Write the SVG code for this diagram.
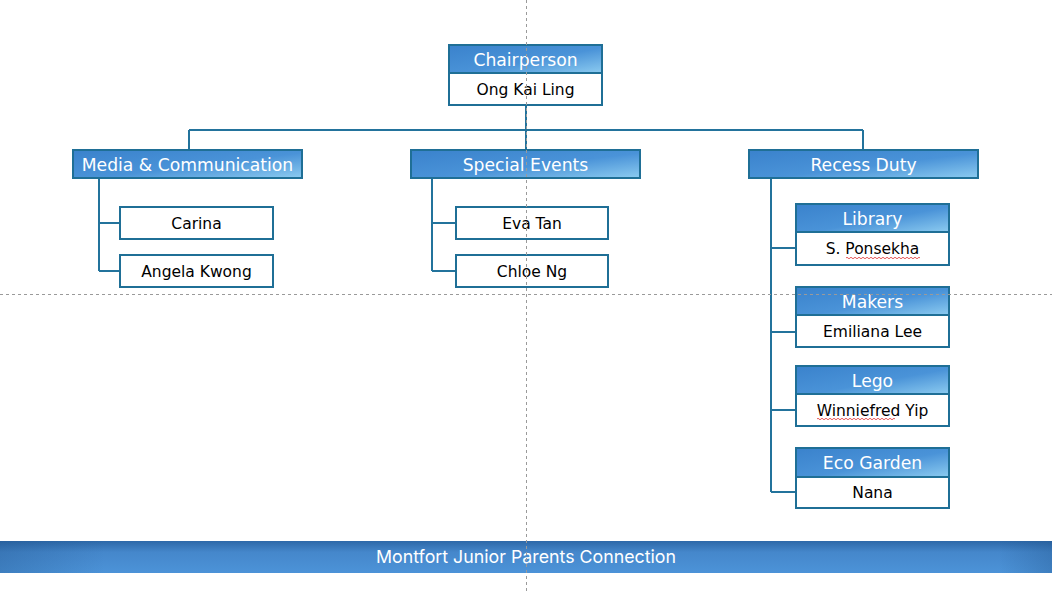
<svg xmlns="http://www.w3.org/2000/svg" width="1052" height="591" viewBox="0 0 1052 591">
<defs>
<linearGradient id="hdr" x1="0" y1="0" x2="1" y2="1">
<stop offset="0" stop-color="#3a82cc"/>
<stop offset="0.55" stop-color="#4a93d8"/>
<stop offset="1" stop-color="#8ccbf0"/>
</linearGradient>
<linearGradient id="ban" x1="0" y1="0" x2="0" y2="1">
<stop offset="0" stop-color="#2d68a8"/>
<stop offset="0.35" stop-color="#4587cb"/>
<stop offset="1" stop-color="#4c93d8"/>
</linearGradient>
<linearGradient id="banEdge" x1="0" y1="0" x2="1" y2="0">
<stop offset="0" stop-color="#1d4f86" stop-opacity="0.3"/>
<stop offset="0.1" stop-color="#1d4f86" stop-opacity="0"/>
<stop offset="0.95" stop-color="#1d4f86" stop-opacity="0"/>
<stop offset="1" stop-color="#1d4f86" stop-opacity="0.3"/>
</linearGradient>
</defs>
<style>
.h{fill:url(#hdr);stroke:#1f6f96;stroke-width:2}
.b{fill:#ffffff;stroke:#1f6f96;stroke-width:2}
.ht{font-family:"DejaVu Sans",Verdana,sans-serif;font-size:17.2px;fill:#ffffff;text-anchor:middle}
.bt{font-family:"DejaVu Sans",Verdana,sans-serif;font-size:15.5px;fill:#000000;text-anchor:middle}
.c{fill:none;stroke:#23739c;stroke-width:2}
.g{stroke:#9a9a9a;stroke-width:1;stroke-dasharray:3 3;fill:none}
.sp{fill:none;stroke:#e03030;stroke-width:0.8}
</style>
<rect width="1052" height="591" fill="#ffffff"/>

<g id="connectors">
<path class="c" d="M526 105 V130 M189 130 H863 M189 130 V150 M526 130 V150 M863 130 V150"/>
<path class="c" d="M99 178 V271 M99 223 H120 M99 271 H120"/>
<path class="c" d="M432 178 V271 M432 223 H456 M432 271 H456"/>
<path class="c" d="M771 178 V492 M771 248 H796 M771 332 H796 M771 410 H796 M771 492 H796"/>
</g>

<g id="chairperson">
<rect class="h" x="449" y="45" width="153" height="28"/>
<rect class="b" x="449" y="73" width="153" height="32"/>
<text class="ht" x="525.5" y="65.5">Chairperson</text>
<text class="bt" x="525.5" y="95">Ong Kai Ling</text>
</g>

<g id="media">
<rect class="h" x="73" y="150" width="229" height="28"/>
<text class="ht" x="187.5" y="170.5">Media &amp; Communication</text>
</g>
<g id="carina">
<rect class="b" x="120" y="207" width="153" height="32"/>
<text class="bt" x="196.5" y="228.5">Carina</text>
</g>
<g id="angela">
<rect class="b" x="120" y="255" width="153" height="32"/>
<text class="bt" x="196.5" y="276.5">Angela Kwong</text>
</g>

<g id="special">
<rect class="h" x="411" y="150" width="229" height="28"/>
<text class="ht" x="525.5" y="170.5">Special Events</text>
</g>
<g id="eva">
<rect class="b" x="456" y="207" width="152" height="32"/>
<text class="bt" x="532" y="228.5">Eva Tan</text>
</g>
<g id="chloe">
<rect class="b" x="456" y="255" width="152" height="32"/>
<text class="bt" x="532" y="276.5">Chloe Ng</text>
</g>

<g id="recess">
<rect class="h" x="749" y="150" width="229" height="28"/>
<text class="ht" x="863.5" y="170.5">Recess Duty</text>
</g>
<g id="library">
<rect class="h" x="796" y="204" width="153" height="28"/>
<rect class="b" x="796" y="232" width="153" height="33"/>
<text class="ht" x="872.5" y="225">Library</text>
<text class="bt" x="872.5" y="254">S. Ponsekha</text>
<path class="sp" d="M846 258 q1 -1.5 2 0 t2 0 t2 0 t2 0 t2 0 t2 0 t2 0 t2 0 t2 0 t2 0 t2 0 t2 0 t2 0 t2 0 t2 0 t2 0 t2 0 t2 0 t2 0 t2 0 t2 0 t2 0 t2 0 t2 0 t2 0 t2 0 t2 0 t2 0 t2 0 t2 0 t2 0 t2 0 t2 0 t2 0 t2 0 t2 0 t2 0"/>
</g>
<g id="makers">
<rect class="h" x="796" y="287" width="153" height="28"/>
<rect class="b" x="796" y="315" width="153" height="32"/>
<text class="ht" x="872.5" y="308">Makers</text>
<text class="bt" x="872.5" y="336.5">Emiliana Lee</text>
</g>
<g id="lego">
<rect class="h" x="796" y="366" width="153" height="28"/>
<rect class="b" x="796" y="394" width="153" height="32"/>
<text class="ht" x="872.5" y="387">Lego</text>
<text class="bt" x="872.5" y="415.5">Winniefred Yip</text>
<path class="sp" d="M817 419 q1 -1.5 2 0 t2 0 t2 0 t2 0 t2 0 t2 0 t2 0 t2 0 t2 0 t2 0 t2 0 t2 0 t2 0 t2 0 t2 0 t2 0 t2 0 t2 0 t2 0 t2 0 t2 0 t2 0 t2 0 t2 0 t2 0 t2 0 t2 0 t2 0 t2 0 t2 0 t2 0 t2 0 t2 0 t2 0 t2 0 t2 0 t2 0 t2 0 t2 0"/>
</g>
<g id="ecogarden">
<rect class="h" x="796" y="448" width="153" height="29"/>
<rect class="b" x="796" y="477" width="153" height="31"/>
<text class="ht" x="872.5" y="469">Eco Garden</text>
<text class="bt" x="872.5" y="498">Nana</text>
</g>

<g id="banner">
<rect x="0" y="541" width="1052" height="32" fill="url(#ban)"/>
<rect x="0" y="541" width="1052" height="32" fill="url(#banEdge)"/>
<text x="526" y="563" font-family="Inter,Roboto,sans-serif" font-size="17.8px" fill="#ffffff" text-anchor="middle">Montfort Junior Parents Connection</text>
</g>

<g id="guides">
<line class="g" x1="526.5" y1="0" x2="526.5" y2="591"/>
<line class="g" x1="0" y1="294.5" x2="1052" y2="294.5"/>
</g>
</svg>
